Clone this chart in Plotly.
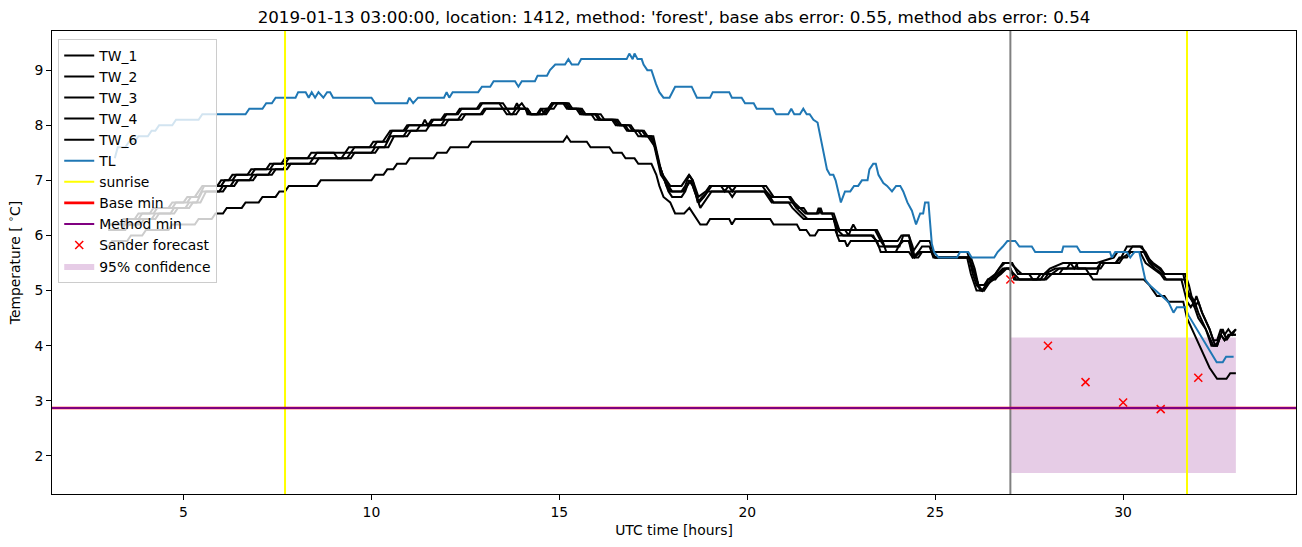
import plotly.graph_objects as go

# ---------------- data ----------------
TW_1 = [(3.0, 6.2), (3.3, 6.2), (3.4, 6.3), (3.7, 6.3), (3.8, 6.4), (4.1, 6.4), (4.2, 6.5), (4.6, 6.5),
        (4.7, 6.6), (5.0, 6.6), (5.1, 6.7), (5.3, 6.7), (5.4, 6.8), (5.5, 6.9), (5.9, 6.9), (6.0, 7.0),
        (6.2, 7.0), (6.3, 7.1), (6.7, 7.1), (6.8, 7.2), (7.2, 7.2), (7.3, 7.3), (7.6, 7.3), (7.7, 7.4),
        (8.3, 7.4), (8.4, 7.5), (9.3, 7.5), (9.4, 7.6), (9.95, 7.6), (10.05, 7.7), (10.3, 7.7), (10.4, 7.8),
        (10.5, 7.9), (10.85, 7.9), (10.95, 8.0), (11.35, 8.0), (11.42, 8.1), (11.5, 8.0), (11.6, 8.1),
        (11.85, 8.1), (11.95, 8.2), (12.25, 8.2), (12.35, 8.3), (12.8, 8.3), (12.9, 8.4), (13.5, 8.4),
        (13.6, 8.3), (13.8, 8.3), (13.87, 8.4), (13.95, 8.3), (14.1, 8.3), (14.2, 8.2), (14.4, 8.2),
        (14.5, 8.3), (14.7, 8.3), (14.8, 8.4), (15.15, 8.4), (15.25, 8.3), (15.5, 8.3), (15.6, 8.2),
        (15.95, 8.2), (16.05, 8.1), (16.5, 8.1), (16.6, 8.0), (16.85, 8.0), (16.95, 7.9), (17.2, 7.9),
        (17.3, 7.8), (17.45, 7.8), (17.55, 7.6), (17.65, 7.3), (17.75, 7.1), (17.85, 7.0), (17.95, 6.9),
        (18.25, 6.9), (18.35, 7.0), (18.45, 7.1), (18.55, 7.0), (18.7, 6.7), (18.9, 6.8), (19.0, 6.9),
        (19.3, 6.9), (19.4, 6.8), (19.5, 6.9), (20.4, 6.9), (20.5, 6.8), (20.65, 6.7), (21.1, 6.7),
        (21.2, 6.6), (21.35, 6.5), (21.5, 6.5), (21.6, 6.4), (21.85, 6.4), (21.9, 6.5), (21.97, 6.4),
        (22.25, 6.4), (22.35, 6.2), (22.45, 6.1), (22.75, 6.1), (22.82, 6.2), (22.9, 6.1), (23.45, 6.1),
        (23.6, 5.9), (24.0, 5.9), (24.1, 6.0), (24.3, 6.0), (24.4, 5.7), (24.5, 5.8), (24.6, 5.9),
        (24.85, 5.9), (24.95, 5.7), (25.85, 5.7), (25.95, 5.5), (26.05, 5.3), (26.15, 5.1), (26.3, 5.1),
        (26.4, 5.2), (26.6, 5.3), (26.7, 5.4), (26.8, 5.5), (27.0, 5.5), (27.15, 5.4), (27.3, 5.3),
        (27.9, 5.3), (28.05, 5.4), (28.4, 5.5), (28.6, 5.5), (28.7, 5.4), (28.8, 5.5), (29.3, 5.5),
        (29.75, 5.6), (29.85, 5.7), (30.15, 5.7), (30.25, 5.8), (30.5, 5.8), (30.65, 5.6), (30.8, 5.5),
        (31.0, 5.4), (31.1, 5.3), (31.6, 5.3), (31.7, 5.0), (31.8, 4.9), (31.9, 4.7), (32.0, 4.8),
        (32.1, 4.6), (32.3, 4.3), (32.4, 4.1), (32.5, 4.1), (32.6, 4.3), (32.7, 4.2), (32.8, 4.3),
        (32.9, 4.2), (33.0, 4.3)]

TW_2 = [(3.0, 6.1), (3.45, 6.1), (3.55, 6.2), (3.85, 6.2), (3.95, 6.3), (4.25, 6.3), (4.35, 6.4),
        (4.75, 6.4), (4.85, 6.5), (5.15, 6.5), (5.25, 6.6), (5.45, 6.6), (5.6, 6.8), (6.05, 6.8),
        (6.15, 6.9), (6.35, 6.9), (6.45, 7.0), (6.85, 7.0), (6.95, 7.1), (7.35, 7.1), (7.45, 7.2),
        (7.75, 7.2), (7.85, 7.3), (8.5, 7.3), (8.6, 7.4), (9.45, 7.4), (9.55, 7.5), (10.1, 7.5),
        (10.2, 7.6), (10.45, 7.6), (10.6, 7.8), (10.95, 7.8), (11.05, 7.9), (11.45, 7.9), (11.55, 8.0),
        (11.95, 8.0), (12.05, 8.1), (12.4, 8.1), (12.5, 8.2), (12.95, 8.2), (13.05, 8.3), (13.6, 8.3),
        (13.7, 8.2), (13.85, 8.2), (13.95, 8.3), (14.15, 8.3), (14.25, 8.2), (14.55, 8.2), (14.65, 8.3),
        (14.85, 8.3), (14.95, 8.4), (15.2, 8.4), (15.3, 8.3), (15.6, 8.3), (15.7, 8.2), (16.1, 8.2),
        (16.2, 8.1), (16.4, 8.1), (16.5, 8.0), (16.7, 8.0), (16.8, 7.9), (17.0, 7.9), (17.1, 7.8),
        (17.35, 7.8), (17.45, 7.7), (17.55, 7.6), (17.65, 7.3), (17.75, 7.1), (17.85, 6.9), (17.95, 6.8),
        (18.3, 6.8), (18.4, 6.9), (18.5, 7.0), (18.6, 6.8), (18.72, 6.6), (18.85, 6.7), (18.95, 6.8),
        (19.5, 6.8), (19.6, 6.7), (19.7, 6.8), (20.5, 6.8), (20.6, 6.7), (20.7, 6.6), (21.2, 6.6),
        (21.3, 6.5), (21.45, 6.4), (21.6, 6.3), (22.3, 6.3), (22.4, 6.1), (22.55, 6.0), (23.35, 6.0),
        (23.5, 5.8), (24.0, 5.8), (24.15, 5.9), (24.3, 5.9), (24.45, 5.6), (24.6, 5.7), (24.9, 5.7),
        (25.0, 5.6), (25.9, 5.6), (26.0, 5.4), (26.1, 5.2), (26.2, 5.0), (26.3, 5.0), (26.4, 5.1),
        (26.5, 5.2), (26.65, 5.3), (26.8, 5.4), (26.95, 5.4), (27.1, 5.3), (27.25, 5.2), (27.95, 5.2),
        (28.1, 5.3), (28.3, 5.4), (29.3, 5.4), (29.4, 5.5), (29.9, 5.5), (30.0, 5.6), (30.2, 5.7),
        (30.55, 5.7), (30.7, 5.5), (30.85, 5.4), (31.05, 5.3), (31.15, 5.2), (31.65, 5.2), (31.75, 4.9),
        (31.85, 4.8), (32.0, 4.5), (32.2, 4.3), (32.4, 4.0), (32.5, 4.0), (32.6, 4.2), (32.7, 4.1),
        (32.8, 4.2), (33.0, 4.2)]

TW_3 = [(3.0, 6.2), (3.4, 6.2), (3.5, 6.3), (3.8, 6.3), (3.9, 6.4), (4.2, 6.4), (4.3, 6.5), (4.7, 6.5),
        (4.8, 6.6), (5.1, 6.6), (5.2, 6.7), (5.4, 6.7), (5.55, 6.9), (6.0, 6.9), (6.1, 7.0), (6.3, 7.0),
        (6.4, 7.1), (6.8, 7.1), (6.9, 7.2), (7.3, 7.2), (7.4, 7.3), (7.7, 7.3), (7.8, 7.4), (8.45, 7.4),
        (8.55, 7.5), (9.0, 7.5), (9.1, 7.4), (9.2, 7.4), (9.3, 7.5), (9.45, 7.5), (9.55, 7.6),
        (10.05, 7.6), (10.15, 7.7), (10.4, 7.7), (10.55, 7.9), (10.9, 7.9), (11.0, 8.0), (11.55, 8.0),
        (11.65, 8.1), (11.9, 8.1), (12.0, 8.2), (12.3, 8.2), (12.4, 8.3), (12.85, 8.3), (12.95, 8.4),
        (13.4, 8.4), (13.5, 8.3), (13.6, 8.2), (13.75, 8.2), (13.85, 8.3), (14.0, 8.4), (14.1, 8.3),
        (14.15, 8.2), (14.45, 8.2), (14.53, 8.3), (14.6, 8.2), (14.7, 8.3), (14.8, 8.4), (15.25, 8.4),
        (15.35, 8.3), (15.55, 8.3), (15.65, 8.2), (16.0, 8.2), (16.1, 8.1), (16.55, 8.1), (16.65, 8.0),
        (16.9, 8.0), (17.0, 7.9), (17.25, 7.9), (17.35, 7.8), (17.5, 7.8), (17.6, 7.5), (17.7, 7.2),
        (17.8, 7.0), (17.9, 6.9), (18.0, 6.8), (18.25, 6.8), (18.35, 6.9), (18.45, 7.1), (18.55, 7.0),
        (18.68, 6.6), (18.8, 6.7), (18.95, 6.8), (19.05, 6.9), (19.5, 6.9), (19.6, 6.8), (19.7, 6.9),
        (20.5, 6.9), (20.6, 6.8), (20.7, 6.7), (21.15, 6.7), (21.25, 6.6), (21.4, 6.5), (21.55, 6.4),
        (21.9, 6.4), (21.95, 6.5), (22.0, 6.4), (22.3, 6.4), (22.45, 6.1), (22.6, 6.1), (22.7, 6.0),
        (22.75, 6.1), (23.4, 6.1), (23.55, 5.9), (23.65, 5.8), (24.05, 5.8), (24.15, 6.0), (24.3, 6.0),
        (24.4, 5.8), (24.45, 5.6), (24.55, 5.7), (24.65, 5.8), (24.85, 5.8), (24.95, 5.6), (25.95, 5.6),
        (26.05, 5.4), (26.15, 5.1), (26.25, 5.0), (26.35, 5.1), (26.5, 5.2), (26.7, 5.4), (26.85, 5.5),
        (27.05, 5.5), (27.2, 5.3), (27.5, 5.3), (27.6, 5.2), (27.8, 5.2), (27.9, 5.3), (28.2, 5.4),
        (28.5, 5.4), (28.6, 5.5), (28.75, 5.5), (28.8, 5.4), (29.0, 5.4), (29.1, 5.3), (29.3, 5.3),
        (29.4, 5.5), (29.8, 5.5), (29.95, 5.6), (30.1, 5.8), (30.45, 5.8), (30.6, 5.7), (30.75, 5.5),
        (30.95, 5.4), (31.1, 5.3), (31.65, 5.3), (31.75, 5.1), (31.82, 4.9), (31.9, 4.8), (31.95, 4.9),
        (32.1, 4.6), (32.3, 4.3), (32.45, 4.0), (32.55, 4.1), (32.65, 4.3), (32.75, 4.1), (32.85, 4.2),
        (33.0, 4.3)]

TW_4 = [(3.0, 6.1), (3.35, 6.1), (3.45, 6.2), (3.75, 6.2), (3.85, 6.3), (4.15, 6.3), (4.25, 6.4),
        (4.65, 6.4), (4.75, 6.5), (5.05, 6.5), (5.15, 6.6), (5.35, 6.6), (5.5, 6.8), (5.95, 6.8),
        (6.05, 6.9), (6.25, 6.9), (6.35, 7.0), (6.75, 7.0), (6.85, 7.1), (7.25, 7.1), (7.35, 7.2),
        (7.65, 7.2), (7.75, 7.3), (8.35, 7.3), (8.45, 7.4), (9.35, 7.4), (9.45, 7.5), (10.0, 7.5),
        (10.1, 7.6), (10.35, 7.6), (10.5, 7.8), (10.85, 7.8), (10.95, 7.9), (11.2, 7.9), (11.3, 8.0),
        (11.85, 8.0), (11.95, 8.1), (12.3, 8.1), (12.4, 8.2), (12.9, 8.2), (13.0, 8.3), (14.15, 8.3),
        (14.25, 8.2), (14.65, 8.2), (14.75, 8.3), (14.85, 8.4), (15.1, 8.4), (15.2, 8.3), (15.45, 8.3),
        (15.55, 8.2), (15.85, 8.2), (15.95, 8.1), (16.45, 8.1), (16.55, 8.0), (16.75, 8.0), (16.85, 7.9),
        (17.1, 7.9), (17.2, 7.8), (17.4, 7.8), (17.5, 7.7), (17.6, 7.4), (17.7, 7.1), (17.8, 7.0),
        (17.9, 6.8), (18.0, 6.7), (18.25, 6.7), (18.35, 6.8), (18.45, 7.0), (18.55, 6.9), (18.75, 6.5),
        (18.85, 6.6), (18.95, 6.7), (19.05, 6.8), (20.45, 6.8), (20.55, 6.7), (20.65, 6.6), (21.1, 6.6),
        (21.2, 6.5), (21.35, 6.4), (21.5, 6.3), (22.3, 6.3), (22.4, 6.0), (23.3, 6.0), (23.45, 5.9),
        (23.55, 5.7), (23.95, 5.7), (24.1, 5.9), (24.3, 5.9), (24.4, 5.6), (24.55, 5.6), (24.65, 5.7),
        (24.9, 5.7), (25.0, 5.6), (25.85, 5.6), (25.95, 5.3), (26.1, 5.0), (26.3, 5.0), (26.4, 5.2),
        (26.6, 5.2), (26.7, 5.3), (26.85, 5.4), (27.0, 5.4), (27.1, 5.2), (27.9, 5.2), (28.0, 5.3),
        (28.3, 5.3), (28.4, 5.4), (29.4, 5.4), (29.5, 5.5), (29.8, 5.5), (29.9, 5.6), (30.1, 5.6),
        (30.2, 5.7), (30.45, 5.7), (30.6, 5.5), (30.8, 5.4), (31.0, 5.3), (31.1, 5.2), (31.55, 5.2),
        (31.7, 4.8), (31.8, 4.7), (31.9, 4.8), (32.0, 4.6), (32.2, 4.3), (32.35, 4.0), (32.5, 4.0),
        (32.6, 4.2), (32.7, 4.1), (32.85, 4.2), (33.0, 4.2)]

TW_6 = [(3.0, 5.8), (3.1, 5.9), (3.5, 5.9), (3.6, 6.0), (3.9, 6.0), (4.0, 6.1), (4.6, 6.1), (4.7, 6.2),
        (5.3, 6.2), (5.4, 6.3), (5.75, 6.3), (5.85, 6.4), (6.05, 6.4), (6.15, 6.5), (6.55, 6.5),
        (6.65, 6.6), (7.0, 6.6), (7.1, 6.7), (7.45, 6.7), (7.55, 6.8), (7.7, 6.8), (7.8, 6.9),
        (8.55, 6.9), (8.65, 7.0), (10.0, 7.0), (10.1, 7.1), (10.32, 7.1), (10.42, 7.2), (10.58, 7.2),
        (10.68, 7.3), (10.92, 7.3), (11.02, 7.4), (11.65, 7.4), (11.75, 7.5), (12.0, 7.5), (12.1, 7.6),
        (12.57, 7.6), (12.67, 7.7), (15.1, 7.7), (15.2, 7.8), (15.3, 7.7), (15.73, 7.7), (15.83, 7.6),
        (16.33, 7.6), (16.43, 7.5), (16.66, 7.5), (16.76, 7.4), (17.0, 7.4), (17.1, 7.3), (17.45, 7.3),
        (17.58, 7.1), (17.66, 6.9), (17.77, 6.7), (17.95, 6.6), (18.08, 6.4), (18.32, 6.4), (18.46, 6.5),
        (18.66, 6.3), (18.75, 6.2), (18.92, 6.2), (19.01, 6.3), (19.52, 6.3), (19.59, 6.2), (19.68, 6.3),
        (20.61, 6.3), (20.7, 6.2), (21.32, 6.2), (21.4, 6.1), (21.57, 6.1), (21.67, 6.0), (21.8, 6.0),
        (21.89, 6.1), (22.34, 6.1), (22.45, 5.9), (22.6, 5.9), (22.66, 5.8), (22.75, 5.9), (23.6, 5.9),
        (23.7, 5.7), (24.3, 5.7), (24.4, 5.6), (24.55, 5.7), (24.9, 5.7), (25.0, 5.6), (25.9, 5.6),
        (26.0, 5.3), (26.1, 5.1), (26.25, 5.0), (26.35, 5.1), (26.55, 5.2), (26.75, 5.3), (26.9, 5.4),
        (27.0, 5.4), (27.15, 5.2), (27.7, 5.2), (27.8, 5.3), (29.1, 5.3), (29.2, 5.2), (30.55, 5.2),
        (30.7, 5.1), (30.9, 4.9), (31.1, 4.9), (31.2, 4.8), (31.6, 4.8), (31.7, 4.5), (31.9, 4.2),
        (32.1, 3.9), (32.3, 3.6), (32.5, 3.4), (32.75, 3.4), (32.85, 3.5), (33.0, 3.5)]

TL = [(3.17, 7.4), (3.25, 7.6), (3.45, 7.6), (3.55, 7.7), (3.7, 7.7), (3.8, 7.8), (4.05, 7.8), (4.15, 7.9),
      (4.25, 7.9), (4.35, 8.0), (4.7, 8.0), (4.8, 8.1), (5.4, 8.1), (5.5, 8.2), (6.65, 8.2), (6.75, 8.3),
      (7.1, 8.3), (7.2, 8.4), (7.35, 8.4), (7.45, 8.5), (7.98, 8.5), (8.05, 8.6), (8.25, 8.6), (8.33, 8.5),
      (8.41, 8.6), (8.5, 8.5), (8.59, 8.6), (8.72, 8.5), (8.82, 8.6), (8.9, 8.6), (8.98, 8.5), (10.0, 8.5),
      (10.1, 8.4), (10.95, 8.4), (11.01, 8.5), (11.11, 8.4), (11.24, 8.5), (11.93, 8.5), (12.0, 8.6),
      (12.07, 8.5), (12.16, 8.6), (12.84, 8.6), (12.94, 8.7), (13.16, 8.7), (13.25, 8.8), (13.82, 8.8),
      (13.91, 8.7), (14.0, 8.8), (14.35, 8.8), (14.42, 8.9), (14.67, 8.9), (14.75, 9.0), (14.89, 9.1),
      (15.15, 9.1), (15.24, 9.2), (15.33, 9.1), (15.5, 9.1), (15.58, 9.2), (16.79, 9.2), (16.86, 9.3),
      (16.95, 9.2), (17.0, 9.3), (17.08, 9.2), (17.19, 9.2), (17.24, 9.1), (17.34, 9.0), (17.45, 9.0),
      (17.49, 8.9), (17.57, 8.75), (17.66, 8.6), (17.77, 8.5), (17.93, 8.5), (18.08, 8.7), (18.52, 8.7),
      (18.66, 8.5), (19.01, 8.5), (19.08, 8.6), (19.52, 8.6), (19.59, 8.5), (19.85, 8.5), (19.94, 8.4),
      (20.17, 8.4), (20.25, 8.3), (20.68, 8.3), (20.77, 8.2), (21.09, 8.2), (21.17, 8.3), (21.25, 8.2),
      (21.4, 8.2), (21.49, 8.3), (21.58, 8.2), (21.66, 8.2), (21.76, 8.1), (21.87, 8.05), (21.98, 7.7),
      (22.12, 7.2), (22.2, 7.1), (22.29, 7.1), (22.35, 7.0), (22.43, 6.8), (22.49, 6.6), (22.6, 6.8),
      (22.74, 6.8), (22.84, 6.9), (22.95, 6.9), (23.05, 7.0), (23.2, 7.0), (23.25, 7.2), (23.35, 7.3),
      (23.42, 7.3), (23.49, 7.1), (23.62, 6.95), (23.72, 6.9), (23.85, 6.8), (23.96, 6.9), (24.07, 6.9),
      (24.15, 6.8), (24.26, 6.6), (24.38, 6.45), (24.49, 6.2), (24.6, 6.4), (24.68, 6.4), (24.73, 6.6),
      (24.82, 6.6), (24.91, 5.85), (24.97, 5.7), (25.09, 5.6), (25.58, 5.6), (25.66, 5.7), (25.88, 5.7),
      (25.97, 5.6), (26.57, 5.6), (26.66, 5.7), (26.8, 5.8), (26.92, 5.9), (27.13, 5.9), (27.24, 5.8),
      (27.57, 5.8), (27.66, 5.7), (28.37, 5.7), (28.41, 5.8), (28.77, 5.8), (28.86, 5.7), (29.65, 5.7),
      (29.7, 5.6), (29.79, 5.7), (30.1, 5.7), (30.19, 5.6), (30.3, 5.7), (30.43, 5.7), (30.59, 5.2),
      (30.7, 5.1), (30.88, 5.0), (31.03, 4.9), (31.2, 4.8), (31.34, 4.6), (31.43, 4.7), (31.65, 4.7),
      (31.74, 4.55), (31.92, 4.35), (32.14, 4.1), (32.31, 3.9), (32.49, 3.7), (32.65, 3.7), (32.74, 3.8),
      (32.94, 3.8)]

SUNRISE_HOURS = [7.7, 31.7]
FORECAST_START = 27.0
BASE_MIN = 2.87
METHOD_MIN = 2.87
SANDER_T = [27, 28, 29, 30, 31, 32]
SANDER_V = [5.2, 4.0, 3.34, 2.97, 2.85, 3.42]
CONF_T = [27.0, 33.0]
CONF_LO = 1.69
CONF_HI = 4.15

TITLE = ("2019-01-13 03:00:00, location: 1412, method: 'forest', "
         "base abs error: 0.55, method abs error: 0.54")

X_RANGE = [1.5, 34.6]
Y_RANGE = [1.31, 9.71]
FONT = "DejaVu Sans"

# ---------------- figure ----------------
fig = go.Figure()

# confidence band (bottom-most, listed last in legend)
fig.add_trace(go.Scatter(
    x=[CONF_T[0], CONF_T[1], CONF_T[1], CONF_T[0]],
    y=[CONF_HI, CONF_HI, CONF_LO, CONF_LO],
    fill="toself", fillcolor="rgba(128,0,128,0.2)", mode="lines",
    line=dict(width=0, color="rgba(128,0,128,0.2)"),
    name="95% confidence", legendrank=11, hoverinfo="skip"))

rank = 1
for name, series in [("TW_1", TW_1), ("TW_2", TW_2), ("TW_3", TW_3), ("TW_4", TW_4), ("TW_6", TW_6)]:
    xs, ys = zip(*series)
    fig.add_trace(go.Scatter(x=xs, y=ys, mode="lines", name=name,
                             line=dict(color="black", width=2), legendrank=rank))
    rank += 1

xs, ys = zip(*TL)
fig.add_trace(go.Scatter(x=xs, y=ys, mode="lines", name="TL",
                         line=dict(color="#1f77b4", width=2), legendrank=6))

# sunrise vertical lines (on a hidden 0..1 y-axis)
sx, sy = [], []
for h in SUNRISE_HOURS:
    sx += [h, h, None]
    sy += [0, 1, None]
fig.add_trace(go.Scatter(x=sx, y=sy, yaxis="y2", mode="lines", name="sunrise",
                         line=dict(color="#ffff00", width=2), legendrank=7))

# base / method minima (horizontal lines on a hidden 0..1 x-axis)
fig.add_trace(go.Scatter(x=[0, 1], y=[BASE_MIN, BASE_MIN], xaxis="x2", mode="lines",
                         name="Base min", line=dict(color="red", width=2.6), legendrank=8))
fig.add_trace(go.Scatter(x=[0, 1], y=[METHOD_MIN, METHOD_MIN], xaxis="x2", mode="lines",
                         name="Method min", line=dict(color="purple", width=2), legendrank=9))

# forecast start line
fig.add_trace(go.Scatter(x=[FORECAST_START, FORECAST_START], y=[0, 1], yaxis="y2", mode="lines",
                         line=dict(color="gray", width=2), showlegend=False))

fig.add_trace(go.Scatter(x=SANDER_T, y=SANDER_V, mode="markers", name="Sander forecast",
                         marker=dict(symbol="x-thin", size=8, color="red",
                                     line=dict(color="red", width=1.5)),
                         legendrank=10))

axis_common = dict(showline=True, mirror=True, linecolor="black", linewidth=1,
                   ticks="outside", ticklen=5, tickwidth=1, tickcolor="black",
                   showgrid=False, zeroline=False,
                   tickfont=dict(family=FONT, size=13.9, color="black"))

fig.update_layout(
    width=1302, height=547,
    margin=dict(l=52, r=6, t=31, b=53),
    paper_bgcolor="white", plot_bgcolor="white",
    font=dict(family=FONT, size=13.9, color="black"),
    title=dict(text=TITLE, x=0.5, xref="paper", xanchor="center",
               y=1 - 17 / 547, yref="container", yanchor="middle",
               font=dict(family=FONT, size=16.7, color="black")),
    xaxis=dict(range=X_RANGE, tickvals=[5, 10, 15, 20, 25, 30],
               title=dict(text="UTC time [hours]", standoff=6,
                          font=dict(family=FONT, size=13.9, color="black")),
               **axis_common),
    yaxis=dict(range=Y_RANGE, tickvals=[2, 3, 4, 5, 6, 7, 8, 9],
               title=dict(text="Temperature [ <sup>∘</sup>C]", standoff=10,
                          font=dict(family=FONT, size=13.9, color="black")),
               **axis_common),
    xaxis2=dict(range=[0, 1], overlaying="x", visible=False),
    yaxis2=dict(range=[0, 1], overlaying="y", visible=False),
    legend=dict(x=0.005, y=0.983, xanchor="left", yanchor="top",
                bgcolor="rgba(255,255,255,0.8)", bordercolor="#cccccc", borderwidth=1,
                font=dict(family=FONT, size=13.9, color="black"),
                itemwidth=30, traceorder="normal"),
    showlegend=True,
)

fig.write_html("out.html")
